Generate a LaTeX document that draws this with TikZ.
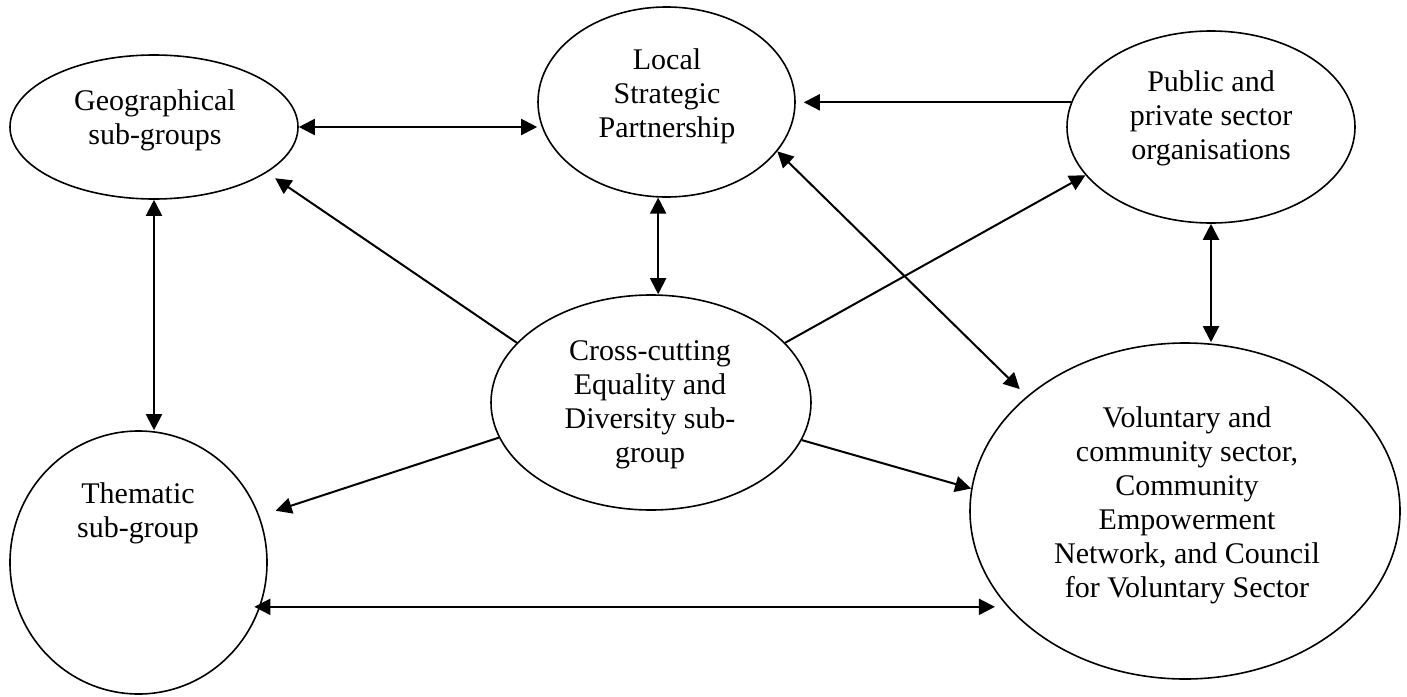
\documentclass[tikz,border=0pt]{standalone}
\usepackage{fontspec}
\setmainfont{Liberation Serif}
\usetikzlibrary{shapes.geometric,arrows.meta}

\tikzset{
	oval/.style={draw, ellipse, line width=1.6pt, inner sep=0pt},
	txt/.style={align=center, font=\fontsize{30}{34}\selectfont},
	arr/.style={-{Triangle[length=16pt,width=16pt]}, line width=2pt},
	twoway/.style={{Triangle[length=16pt,width=16pt]}-{Triangle[length=16pt,width=16pt]}, line width=2pt}}

\begin{document}
\begin{tikzpicture}[x=1pt,y=1pt,yscale=-1,xscale=1]
	\useasboundingbox (0,0) rectangle (1407,696);

	% Ellipses
	\node[oval, minimum width=288pt, minimum height=144pt] (geo) at (154,127) {};
	\node[oval, minimum width=257pt, minimum height=190pt] (lsp) at (666.5,102) {};
	\node[oval, minimum width=288pt, minimum height=192pt] (pub) at (1211,127) {};
	\node[oval, minimum width=320pt, minimum height=215pt] (cross) at (651,402.5) {};
	\node[oval, minimum width=257pt, minimum height=263pt] (them) at (138.5,562.5) {};
	\node[oval, minimum width=430pt, minimum height=336pt] (vol) at (1185,511) {};

	% Text
	\node[txt] (geo-t) at (155,120.5) {Geographical\\sub-groups};
	\node[txt] (lsp-t) at (667,96) {Local\\Strategic\\Partnership};
	\node[txt] (pub-t) at (1211,118.5) {Public and\\private sector\\organisations};
	\node[txt] (cross-t) at (650,404.5) {Cross-cutting\\Equality and\\Diversity sub-\\group};
	\node[txt] (them-t) at (138,513.5) {Thematic\\sub-group};
	\node[txt] (vol-t) at (1187,505) {Voluntary and\\community sector,\\Community\\Empowerment\\Network, and Council\\for Voluntary Sector};

	% Arrows
	\draw[twoway] (geo.east) -- (geo.east -| lsp.west);
	\draw[arr, shorten >=8pt] (pub.170) -- (pub.170 -| lsp.east);
	\draw[twoway, shorten >=10pt] (lsp.-24) -- (vol.144);
	\draw[arr] (cross.24) -- (pub.201);
	\draw[twoway] (lsp.265) -- (lsp.265 |- cross.north);
	\draw[arr, shorten >=10pt] (cross.156) -- (geo.-22);
	\draw[twoway] (geo.south) -- (geo.south |- them.north);
	\draw[arr, shorten >=17pt] (cross.193) -- (them.21);
	\draw[arr] (cross.-14) -- (vol.174);
	\draw[twoway, shorten <=-6pt, shorten >=14pt] (them.-20) -- (them.-20 -| vol.209);
	\draw[twoway] (pub.south) -- (pub.south |- vol.north);

\end{tikzpicture}
\end{document}
